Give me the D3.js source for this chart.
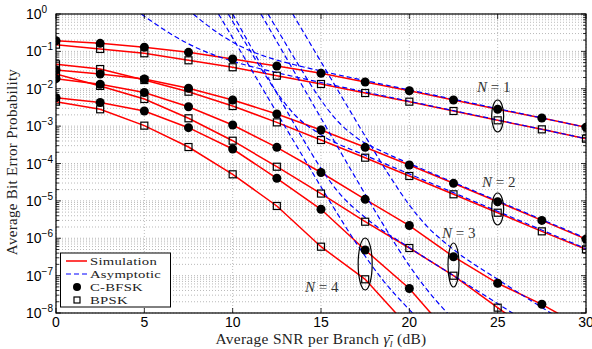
<!DOCTYPE html>
<html><head><meta charset="utf-8">
<script src="https://cdn.jsdelivr.net/npm/d3@7"></script>
<style>body{margin:0;background:#fff}</style>
</head><body><svg id="c" width="592" height="349"></svg>
<script>
// ---------- data ----------
const snr = [0,2.5,5,7.5,10,12.5,15,17.5,20,22.5,25,27.5,30];
const xTicks = [0,5,10,15,20,25,30];
const yTickExps = [0,-1,-2,-3,-4,-5,-6,-7,-8];

// C-BFSK (circles) and BPSK (squares), simulation values
const bfskN1 = [0.193,0.164,0.129,0.0944,0.0625,0.0406,0.0259,0.0152,0.00887,0.0050,0.00282,0.00165,0.00093];
const bpskN1 = [0.151,0.116,0.0889,0.0577,0.0376,0.0223,0.0134,0.00769,0.00451,0.00254,0.00143,0.00082,0.000461];
const bfskN2 = [0.0318,0.0248,0.0182,0.0103,0.0050,0.00211,7.87e-4,2.71e-4,9.12e-5,2.95e-5,9.5e-6,3.0e-6,9.5e-7];
const bpskN2 = [0.0451,0.0337,0.0171,0.00834,0.00345,0.00126,4.26e-4,1.43e-4,4.63e-5,1.50e-5,4.82e-6,1.53e-6,5.06e-7];
const bfskN3 = [0.0186,0.0132,0.00794,0.00331,0.00107,2.71e-4,5.74e-5,1.10e-5,2.19e-6,3.2e-7,6.24e-8,1.71e-8,3.7e-9];
const bpskN3 = [0.0248,0.0119,0.00532,0.00162,4.07e-4,8.2e-5,1.57e-5,2.77e-6,5.48e-7,9.95e-8,1.39e-8,2e-9];
const bfskN4 = [0.00577,0.00429,0.00254,9.08e-4,2.44e-4,4.02e-5,5.96e-6,4.85e-7,4.52e-8,2e-9];
const bpskN4 = [0.00451,0.00282,0.00103,2.76e-4,5.14e-5,7.3e-6,5.94e-7,7.98e-8,4e-9];

// asymptotic curves (SNR in dB, BER)
const asymN1sX = [4.83,5.5,6.5,7.5,9,10,12.5,15,20,25,30];
const asymN1sY = [1.0,0.595,0.293,0.159,0.0782,0.0544,0.0269,0.0147,0.00462,0.00146,0.000462];
const asymN1cX = [7.77,8.5,9.5,10.5,12,13.5,15,20,25,30];
const asymN1cY = [1.0,0.528,0.245,0.1328,0.0692,0.0438,0.0299,0.0093,0.00294,0.00093];
const asymN2sX = [9.75,10.5,11.5,12.5,13.5,15,17.5,20,25,30];
const asymN2sY = [1.0,0.2538,0.0422,0.00793,0.00204,5.88e-4,1.66e-4,5.25e-5,5.25e-6,5.25e-7];
const asymN2cX = [12,12.75,13.75,14.75,15.75,17,18.5,20,25,30];
const asymN2cY = [1.0,0.254,0.0416,0.00743,1.71e-3,4.98e-4,2.06e-4,1.0e-4,1.0e-5,1.0e-6];
const asymN3sX = [10,11,12,13,14,15,16,17.5,20,22.5,25,27.5];
const asymN3sY = [1.0,0.1416,0.0201,0.00289,4.34e-4,7.4e-5,1.68e-5,3.58e-6,5.62e-7,1.0e-7,1.78e-8,3.16e-9];
const asymN3cX = [13.4,14.5,15.5,16.5,17.5,19,20,21,22.5,25,27.5,30];
const asymN3cY = [1.0,0.1319,0.021,0.00334,5.39e-4,3.81e-5,7.76e-6,2.09e-6,5.0e-7,7.94e-8,1.41e-8,2.5e-9];
const asymN4sX = [9.2,10,11,12.5,14,15.5,17,18.5,20,21];
const asymN4sY = [1.0,0.229,0.0363,0.00229,1.47e-4,9.7e-6,7.33e-7,7.6e-8,1.23e-8,4.1e-9];
const asymN4cX = [11.6,12.5,14,15.5,17,18.5,20,21,22,23];
const asymN4cY = [1.0,0.183,0.0108,6.38e-4,3.82e-5,2.42e-6,1.85e-7,4.2e-8,1.19e-8,4.0e-9];

const legendLabels = ["Simulation","Asymptotic","C-BFSK","BPSK"];
const annotLabels = ["1","2","3","4"];

// ---------- drawing ----------
const svg = d3.select("#c");
const L=56, R=586, T=14, B=313;
const x = d3.scaleLinear().domain([0,30]).range([L,R]);
const y = d3.scaleLog().domain([1e-8,1]).range([B,T]);

svg.append("rect").attr("width",592).attr("height",349).attr("fill","#fff");
svg.append("defs").append("clipPath").attr("id","clip")
  .append("rect").attr("x",L).attr("y",T).attr("width",R-L).attr("height",B-T);

// grid
const minor = [];
for (let e=-8;e<0;e++) for (let m=1;m<10;m++) minor.push(m*Math.pow(10,e));
minor.push(1);
const grid = svg.append("g");
grid.selectAll("line.h").data(minor).join("line")
  .attr("x1",L).attr("x2",R).attr("y1",d=>y(d)).attr("y2",d=>y(d))
  .attr("stroke","#a8a8a8").attr("stroke-width",0.8).attr("stroke-dasharray","1,2");
grid.selectAll("line.v").data(xTicks).join("line")
  .attr("y1",T).attr("y2",B).attr("x1",d=>x(d)).attr("x2",d=>x(d))
  .attr("stroke","#a8a8a8").attr("stroke-width",0.8).attr("stroke-dasharray","1,2");

const plot = svg.append("g").attr("clip-path","url(#clip)");

const line = d3.line().x(d=>x(d[0])).y(d=>y(d[1])).curve(d3.curveMonotoneX);
const lineLin = d3.line().x(d=>x(d[0])).y(d=>y(d[1]));
const asyms = [[asymN1cX,asymN1cY],[asymN1sX,asymN1sY],[asymN2cX,asymN2cY],[asymN2sX,asymN2sY],
  [asymN3cX,asymN3cY],[asymN3sX,asymN3sY],[asymN4cX,asymN4cY],[asymN4sX,asymN4sY]];
const sims = [bfskN1,bpskN1,bfskN2,bpskN2,bfskN3,bpskN3,bfskN4,bpskN4];

sims.forEach(s=>{
  plot.append("path").attr("d",lineLin(s.map((v,i)=>[snr[i],v])))
    .attr("fill","none").attr("stroke","#ff0000").attr("stroke-width",1.5);
});
asyms.forEach(a=>{
  plot.append("path").attr("d",line(a[0].map((v,i)=>[v,a[1][i]])))
    .attr("fill","none").attr("stroke","#0000ff").attr("stroke-width",1.2).attr("stroke-dasharray","5,3");
});
sims.forEach((s,k)=>{
  const pts = s.map((v,i)=>[snr[i],v]);
  if (k%2===0) {
    plot.selectAll(null).data(pts).join("circle")
      .attr("cx",d=>x(d[0])).attr("cy",d=>y(d[1])).attr("r",4.5).attr("fill","#000");
  } else {
    plot.selectAll(null).data(pts).join("rect")
      .attr("x",d=>x(d[0])-3.5).attr("y",d=>y(d[1])-3.5).attr("width",7).attr("height",7)
      .attr("fill","none").attr("stroke","#000").attr("stroke-width",1.2);
  }
});

// frame
svg.append("rect").attr("x",L).attr("y",T).attr("width",R-L).attr("height",B-T)
  .attr("fill","none").attr("stroke","#000").attr("stroke-width",1.2);

// ticks
const tk = svg.append("g").attr("stroke","#000").attr("stroke-width",0.8);
xTicks.forEach(t=>{
  tk.append("line").attr("x1",x(t)).attr("x2",x(t)).attr("y1",B).attr("y2",B-5);
  tk.append("line").attr("x1",x(t)).attr("x2",x(t)).attr("y1",T).attr("y2",T+5);
});
minor.forEach(v=>{
  const major = Math.abs(Math.log10(v)-Math.round(Math.log10(v)))<1e-9;
  const len = major?5:3;
  tk.append("line").attr("x1",L).attr("x2",L+len).attr("y1",y(v)).attr("y2",y(v));
  tk.append("line").attr("x1",R).attr("x2",R-len).attr("y1",y(v)).attr("y2",y(v));
});

// tick labels
const sans = "'Liberation Sans', Arial, sans-serif";
const serif = "'Liberation Serif', 'Times New Roman', serif";
svg.selectAll("text.xt").data(xTicks).join("text")
  .attr("x",d=>x(d)).attr("y",B+14).attr("text-anchor","middle")
  .attr("font-family",sans).attr("font-size",14).text(d=>d);
yTickExps.forEach(e=>{
  const t = svg.append("text").attr("x",26).attr("y",y(Math.pow(10,e))+5)
    .attr("text-anchor","start").attr("font-family",sans).attr("font-size",14);
  t.append("tspan").text("10");
  t.append("tspan").attr("dy",-6).attr("font-size",10).text(e===0?"0":"\u2212"+(-e));
});

// axis titles
const xt = svg.append("text").attr("transform","translate(321,344) scale(1.1,1)").attr("text-anchor","middle")
  .attr("font-family",serif).attr("font-size",14).attr("letter-spacing",0.3).attr("fill","#222");
xt.append("tspan").text("Average SNR per Branch ");
xt.append("tspan").attr("font-style","italic").text("\u03B3\u0304");
xt.append("tspan").attr("font-style","italic").attr("font-size",9).attr("dy",2.5).text("l");
xt.append("tspan").attr("dy",-2.5).text(" (dB)");
svg.append("text").attr("transform","translate(17,162) rotate(-90)").attr("text-anchor","middle")
  .attr("font-family",serif).attr("font-size",15).attr("letter-spacing",0.3).attr("fill","#222").text("Average Bit Error Probability");

// legend
const lg = svg.append("g");
lg.append("rect").attr("x",60.5).attr("y",253).attr("width",110).attr("height",54)
  .attr("fill","#fff").attr("stroke","#000").attr("stroke-width",1);
const ly = [261,274,287,300];
lg.append("line").attr("x1",66).attr("x2",87).attr("y1",ly[0]).attr("y2",ly[0]).attr("stroke","#ff0000").attr("stroke-width",1.5);
lg.append("line").attr("x1",66).attr("x2",87).attr("y1",ly[1]).attr("y2",ly[1]).attr("stroke","#0000ff").attr("stroke-width",1.2).attr("stroke-dasharray","5,3");
lg.append("circle").attr("cx",77).attr("cy",ly[2]).attr("r",4).attr("fill","#000");
lg.append("rect").attr("x",74).attr("y",ly[3]-3).attr("width",6).attr("height",6).attr("fill","none").attr("stroke","#000").attr("stroke-width",1.2);
legendLabels.forEach((s,i)=>{
  lg.append("text").attr("transform",`translate(90,${ly[i]+4}) scale(1.3,1)`)
    .attr("font-family",serif).attr("font-size",11.3)
    .attr("letter-spacing",0.2).attr("fill","#222").text(s);
});

// annotations
const ann = [
  {tx:477,ty:92,ex:x(25),ey:116,rx:6,ry:16},
  {tx:482,ty:187,ex:x(25),ey:209,rx:6,ry:16},
  {tx:442,ty:238,ex:x(22.5),ey:265,rx:5.5,ry:22},
  {tx:305,ty:292,ex:x(17.5),ey:264,rx:7,ry:26}
];
ann.forEach((a,i)=>{
  svg.append("ellipse").attr("cx",a.ex).attr("cy",a.ey).attr("rx",a.rx).attr("ry",a.ry)
    .attr("fill","none").attr("stroke","#000").attr("stroke-width",1.2);
  const t = svg.append("text").attr("x",a.tx).attr("y",a.ty).attr("font-family",serif)
    .attr("font-size",15).attr("fill","#333");
  t.append("tspan").attr("font-style","italic").text("N");
  t.append("tspan").text(" = "+annotLabels[i]);
});
</script></body></html>
